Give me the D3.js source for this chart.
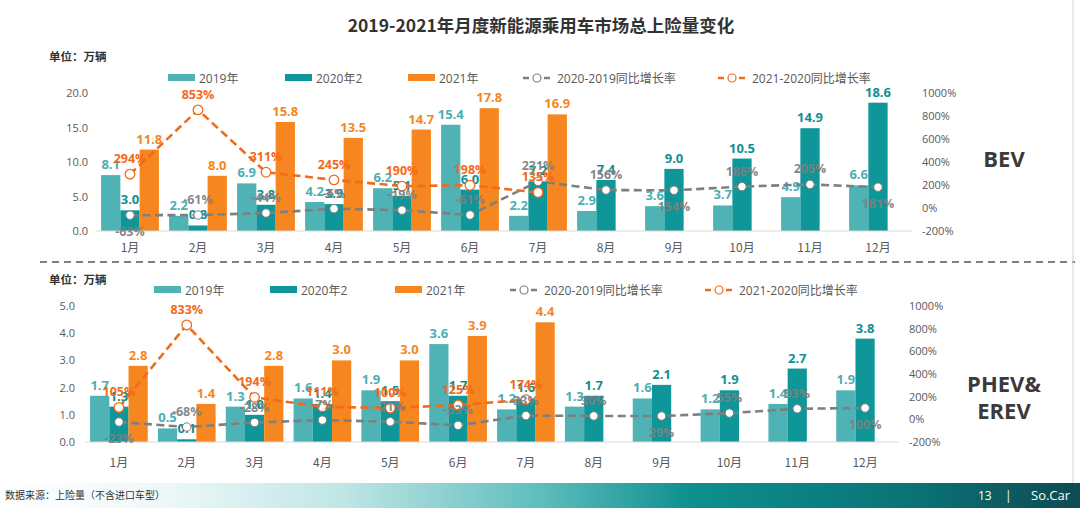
<!DOCTYPE html>
<html><head><meta charset="utf-8">
<script src="https://cdn.jsdelivr.net/npm/d3@7"></script>
<style>
html,body{margin:0;padding:0;background:#fff;}
svg{display:block;font-family:"Open Sans","Noto Sans CJK SC",sans-serif;}
</style></head>
<body><svg id="c" width="1080" height="508"></svg>
<script>
// ---------- data ----------
const months = ['1月','2月','3月','4月','5月','6月','7月','8月','9月','10月','11月','12月'];
const seriesNames = ['2019年','2020年2','2021年','2020-2019同比增长率','2021-2020同比增长率'];

const bev2019 = [8.1,2.2,6.9,4.2,6.2,15.4,2.2,2.9,3.6,3.7,4.9,6.6];
const bev2020 = [3.0,0.8,3.8,3.9,5.1,6.0,7.2,7.4,9.0,10.5,14.9,18.6];
const bev2021 = [11.8,8.0,15.8,13.5,14.7,17.8,16.9];
const bevGrowth20 = [-63,-61,-44,-6,-19,-61,231,156,154,186,205,181];
const bevGrowth21 = [294,853,311,245,190,198,135];
const bevGrowth20Side = ['below','above','above','above','above','above','above','above','below','above','above','below'];

const phev2019 = [1.7,0.5,1.3,1.6,1.9,3.6,1.2,1.3,1.6,1.2,1.4,1.9];
const phev2020 = [1.3,0.1,1.0,1.4,1.5,1.7,1.6,1.7,2.1,1.9,2.7,3.8];
const phev2021 = [2.8,1.4,2.8,3.0,3.0,3.9,4.4];
const phevGrowth20 = [-23,-68,-28,-7,-21,-53,33,30,29,55,93,100];
const phevGrowth21 = [105,833,194,111,100,125,174];
const phevGrowth20Side = ['below','above','above','above','above','above','above','above','below','above','above','below'];

const bevTicks = [0,5,10,15,20];
const phevTicks = [0,1,2,3,4,5];
const pctTicks = [-200,0,200,400,600,800,1000];

// ---------- style ----------
const C19 = '#4fb3b5', C20 = '#0f9699', C21 = '#f6861f', CG = '#7f7f7f', CO = '#f26a1b';
const L19 = '#4aaeb3', L20 = '#108f94';
const svg = d3.select('#c');

// footer gradient
const defs = svg.append('defs');
const grad = defs.append('linearGradient').attr('id','fg').attr('x1','0').attr('x2','1').attr('y1','0').attr('y2','0');
[[0,'#ffffff'],[0.15,'#eef8f8'],[0.32,'#bfe5e5'],[0.5,'#5fbdbd'],[0.64,'#0e8f8f'],[0.85,'#0a7275'],[1,'#0f4a52']]
  .forEach(([o,c])=>grad.append('stop').attr('offset',o).attr('stop-color',c));

// title
svg.append('text').attr('x',541).attr('y',32).attr('text-anchor','middle')
  .attr('font-size',17.5).attr('font-weight','bold').attr('fill','#333')
  .attr('font-family','"Noto Sans CJK SC",sans-serif')
  .text('2019-2021年月度新能源乘用车市场总上险量变化');

// separator and border
svg.append('line').attr('x1',40).attr('x2',1075).attr('y1',262).attr('y2',262)
  .attr('stroke','#555').attr('stroke-width',1.4).attr('stroke-dasharray','7,5');
svg.append('line').attr('x1',1073).attr('x2',1073).attr('y1',0).attr('y2',483)
  .attr('stroke','#d0d0d0').attr('stroke-width',1);

function panel(cfg){
  const g = svg.append('g');
  const x = d3.scaleBand().domain(months).range([cfg.x0,cfg.x1]).paddingInner(0.15).paddingOuter(0.075);
  const xs = d3.scaleBand().domain(['a','b','c']).range([0,x.bandwidth()]);
  const y = d3.scaleLinear().domain([0,cfg.yMax]).range([cfg.yBot,cfg.yTop]);
  const yp = d3.scaleLinear().domain([-200,1000]).range([cfg.yBot,cfg.yTop]);
  const fmt = d3.format('.1f');

  // unit
  g.append('text').attr('x',49).attr('y',cfg.unitY).attr('font-size',11.5).attr('font-weight','bold')
    .attr('fill','#333').attr('font-family','"Noto Sans CJK SC",sans-serif').text('单位：万辆');

  // left axis
  const la = d3.axisLeft(y).tickValues(cfg.ticks).tickFormat(fmt).tickSize(0).tickPadding(0);
  const lag = g.append('g').attr('transform',`translate(${cfg.leftX},0)`).call(la);
  lag.select('.domain').remove();
  lag.selectAll('text').attr('font-size',11).attr('fill','#595959').attr('font-family','"Open Sans",sans-serif');
  // right axis
  const ra = d3.axisRight(yp).tickValues(pctTicks).tickFormat(d=>d+'%').tickSize(0).tickPadding(0);
  const rag = g.append('g').attr('transform',`translate(${cfg.rightX},0)`).call(ra);
  rag.select('.domain').remove();
  rag.selectAll('text').attr('font-size',11).attr('fill','#595959').attr('font-family','"Open Sans",sans-serif');

  // bars
  const sets = [[cfg.s19,'a',C19,L19],[cfg.s20,'b',C20,L20],[cfg.s21,'c',C21,C21]];
  sets.forEach(([arr,k,col,lc])=>{
    g.append('g').selectAll('rect').data(arr).join('rect')
      .attr('x',(d,i)=>x(months[i])+xs(k)).attr('width',xs.bandwidth())
      .attr('y',d=>y(d)).attr('height',d=>y(0)-y(d)).attr('fill',col);
  });
  // baseline
  g.append('line').attr('x1',cfg.x0).attr('x2',cfg.x1).attr('y1',y(0)).attr('y2',y(0))
    .attr('stroke','#d9d9d9').attr('stroke-width',1);
  // x labels
  const xa = d3.axisBottom(x).tickSize(0).tickPadding(0);
  const xag = g.append('g').attr('transform',`translate(0,${cfg.monthY})`).call(xa);
  xag.select('.domain').remove();
  xag.selectAll('text').attr('font-size',12).attr('fill','#595959').attr('dy',0)
    .attr('font-family','"Noto Sans CJK SC",sans-serif');

  // bar labels
  sets.forEach(([arr,k,col,lc])=>{
    g.append('g').selectAll('text').data(arr).join('text')
      .attr('x',(d,i)=>x(months[i])+xs(k)+xs.bandwidth()/2).attr('y',d=>y(d)-6)
      .attr('text-anchor','middle').attr('font-size',13).attr('font-weight','bold')
      .attr('fill',lc).text(d=>fmt(d));
  });

  // lines
  const cx = (d,i)=>x(months[i])+x.bandwidth()/2;
  const line = d3.line().x(cx).y(d=>yp(d));
  [[cfg.g20,CG],[cfg.g21,CO]].forEach(([arr,col])=>{
    g.append('path').attr('d',line(arr)).attr('fill','none').attr('stroke',col)
      .attr('stroke-width',2.6).attr('stroke-dasharray','8,4.5');
  });
  g.append('g').selectAll('circle').data(cfg.g20).join('circle')
    .attr('cx',cx).attr('cy',d=>yp(d)).attr('r',4.2).attr('fill','#fff').attr('stroke',CG).attr('stroke-width',1);
  g.append('g').selectAll('circle').data(cfg.g21).join('circle')
    .attr('cx',cx).attr('cy',d=>yp(d)).attr('r',4.8).attr('fill','#fff').attr('stroke',CO).attr('stroke-width',1.3);

  // growth labels
  g.append('g').selectAll('text').data(cfg.g20).join('text')
    .attr('x',cx).attr('y',(d,i)=>cfg.side20[i]==='above'?yp(d)-11:yp(d)+21)
    .attr('text-anchor','middle').attr('font-size',12.5).attr('font-weight','bold')
    .attr('fill','#808080').attr('fill-opacity',0.95).text(d=>d+'%');
  g.append('g').selectAll('text').data(cfg.g21).join('text')
    .attr('x',cx).attr('y',d=>yp(d)-11)
    .attr('text-anchor','middle').attr('font-size',12.5).attr('font-weight','bold')
    .attr('fill',CO).text(d=>d+'%');

  // legend
  const lg = g.append('g').attr('font-size',12).attr('fill','#595959')
    .attr('font-family','"Open Sans","Noto Sans CJK SC",sans-serif');
  const ly = cfg.legendY;
  [[0,C19],[1,C20],[2,C21]].forEach(([i,col])=>{
    const lx = cfg.legX[i];
    lg.append('rect').attr('x',lx).attr('y',ly-4).attr('width',27).attr('height',7).attr('fill',col);
    lg.append('text').attr('x',lx+31).attr('y',ly+4.5).attr('fill','#595959').text(seriesNames[i]);
  });
  [[3,CG],[4,CO]].forEach(([i,col])=>{
    const lx = cfg.legX[i];
    lg.append('line').attr('x1',lx).attr('x2',lx+28).attr('y1',ly).attr('y2',ly)
      .attr('stroke',col).attr('stroke-width',2.6).attr('stroke-dasharray','6,4.5');
    lg.append('circle').attr('cx',lx+14).attr('cy',ly).attr('r',4).attr('fill','#fff').attr('stroke',col).attr('stroke-width',1.2);
    lg.append('text').attr('x',lx+34).attr('y',ly+4.5).attr('fill','#595959').text(seriesNames[i]);
  });

  // side label
  const st = g.append('text').attr('font-size',22).attr('font-weight','bold').attr('fill','#3a3a3a')
    .attr('text-anchor','middle').attr('font-family','"Open Sans",sans-serif');
  cfg.sideText.forEach((t,i)=>st.append('tspan').attr('x',cfg.sideX).attr('y',cfg.sideY+i*27).text(t));
}

panel({x0:96,x1:912,yTop:93,yBot:231,leftX:88,rightX:922,yMax:20,ticks:bevTicks,
  unitY:61,legendY:78,monthY:252,legX:[168,285,408,523,718],
  s19:bev2019,s20:bev2020,s21:bev2021,g20:bevGrowth20,g21:bevGrowth21,side20:bevGrowth20Side,
  sideText:['BEV'],sideX:1004,sideY:167});
panel({x0:85,x1:899,yTop:306,yBot:442,leftX:75,rightX:909,yMax:5,ticks:phevTicks,
  unitY:284,legendY:290,monthY:467,legX:[154,270,395,510,705],
  s19:phev2019,s20:phev2020,s21:phev2021,g20:phevGrowth20,g21:phevGrowth21,side20:phevGrowth20Side,
  sideText:['PHEV&','EREV'],sideX:1004,sideY:392});

// footer
svg.append('rect').attr('x',0).attr('y',483).attr('width',1080).attr('height',25).attr('fill','url(#fg)');
svg.append('text').attr('x',5).attr('y',499).attr('font-size',10).attr('fill','#333')
  .attr('font-family','"Noto Sans CJK SC",sans-serif').text('数据来源：上险量（不含进口车型）');
svg.append('text').attr('x',978).attr('y',500).attr('font-size',12).attr('fill','#fff').text('13');
svg.append('text').attr('x',1005).attr('y',500).attr('font-size',12).attr('fill','#fff').text('|');
svg.append('text').attr('x',1031).attr('y',500).attr('font-size',13).attr('fill','#fff').text('So.Car');
</script></body></html>
